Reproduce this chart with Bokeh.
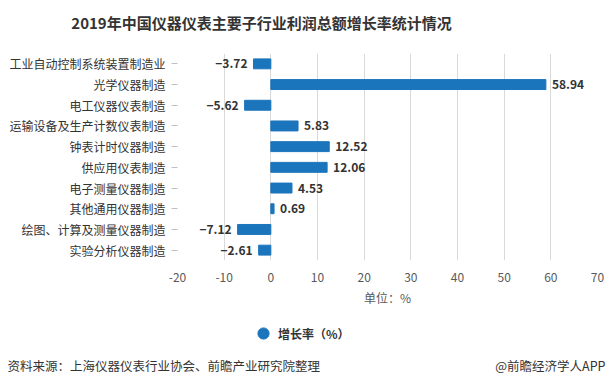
from bokeh.plotting import figure
from bokeh.layouts import column
from bokeh.models import (ColumnDataSource, FactorRange, Range1d, Label, Legend, LegendItem,
                          FixedTicker)
from bokeh.core.properties import value
from bokeh.embed import file_html
from bokeh.resources import INLINE

categories = ["工业自动控制系统装置制造业", "光学仪器制造", "电工仪器仪表制造", "运输设备及生产计数仪表制造",
              "钟表计时仪器制造", "供应用仪表制造", "电子测量仪器制造", "其他通用仪器制造",
              "绘图、计算及测量仪器制造", "实验分析仪器制造"]
growth = [-3.72, 58.94, -5.62, 5.83, 12.52, 12.06, 4.53, 0.69, -7.12, -2.61]
x_ticks = [-20, -10, 0, 10, 20, 30, 40, 50, 60, 70]
x_tick_labels = ["-20", "-10", "0", "10", "20", "30", "40", "50", "60", "70"]
series_name = "增长率（%）"
title_text = "2019年中国仪器仪表主要子行业利润总额增长率统计情况"
unit_text = "单位：%"
source_text = "资料来源：上海仪器仪表行业协会、前瞻产业研究院整理"
credit_text = "@前瞻经济学人APP"

FONT = "Noto Sans CJK SC"
BAR = "#1b75bc"
W = 608
FL = 177   # frame left of the bar chart in the canvas


def blank(height):
    f = figure(width=W, height=height, output_backend="svg", toolbar_location=None,
               x_range=Range1d(0, 1), y_range=Range1d(0, 1),
               min_border_left=0, min_border_right=0, min_border_top=0, min_border_bottom=0)
    f.axis.visible = False
    f.grid.visible = False
    f.outline_line_color = None
    try:
        f.frame_align = False
    except Exception:
        pass
    return f


# header with title
head = blank(45)
head.add_layout(Label(x=261, y=23, x_units="screen", y_units="screen", text=title_text,
                      text_font=FONT, text_font_size="15px", text_font_style="bold",
                      text_color="#333333", text_align="center", text_baseline="middle"))

# main chart
labels = [("−%.2f" % -v) if v < 0 else ("%.2f" % v) for v in growth]
aligns = ["right" if v < 0 else "left" for v in growth]
offs = [-6 if v < 0 else 6 for v in growth]
src = ColumnDataSource(dict(cat=categories, val=growth, lab=labels, align=aligns, off=offs))

p = figure(width=W, height=263, output_backend="svg", toolbar_location=None,
           y_range=FactorRange(factors=list(reversed(categories)), range_padding=0),
           x_range=Range1d(-20, 70),
           min_border_left=FL, min_border_right=11, min_border_top=8, min_border_bottom=45)
p.outline_line_color = None

p.hbar(y="cat", left=0, right="val", height=0.48, color=BAR, source=src)
p.text(x="val", y="cat", text="lab", text_align="align", x_offset="off", text_baseline="middle",
       text_font=value(FONT), text_font_size="12px", text_font_style="bold", text_color="#333333",
       source=src)

p.xaxis.ticker = FixedTicker(ticks=x_ticks)
p.xaxis.major_label_overrides = dict(zip(x_ticks, x_tick_labels))
p.xaxis.axis_line_color = None
p.xaxis.major_tick_line_color = None
p.xaxis.minor_tick_line_color = None
p.xaxis.major_label_text_font = FONT
p.xaxis.major_label_text_font_size = "12px"
p.xaxis.major_label_text_color = "#595959"
p.xaxis.major_label_standoff = 6
p.xaxis.axis_label = unit_text
p.xaxis.axis_label_text_font = FONT
p.xaxis.axis_label_text_font_size = "12px"
p.xaxis.axis_label_text_font_style = "normal"
p.xaxis.axis_label_text_color = "#595959"
p.xaxis.axis_label_standoff = 4

p.yaxis.axis_line_color = None
p.yaxis.major_tick_line_color = "#bfbfbf"
p.yaxis.major_tick_out = 6
p.yaxis.major_tick_in = 0
p.yaxis.major_label_text_font = FONT
p.yaxis.major_label_text_font_size = "12px"
p.yaxis.major_label_text_color = "#333333"
p.yaxis.major_label_standoff = 6

p.xgrid.grid_line_color = "#d9d9d9"
p.ygrid.grid_line_color = None

# footer with legend and source
foot = blank(72)
# legend proxy: a single marker kept outside the visible range, only its legend swatch shows
proxy = foot.scatter(x=[-1], y=[-1], marker="circle", color=BAR)
legend = Legend(items=[LegendItem(label=series_name, renderers=[proxy])],
                location=(249, 33), orientation="horizontal",
                glyph_width=28, glyph_height=28, label_standoff=1, padding=0, margin=0,
                border_line_color=None, background_fill_alpha=0,
                label_text_font=FONT, label_text_font_size="12px", label_text_font_style="bold",
                label_text_color="#333333")
foot.add_layout(legend)
foot.add_layout(Label(x=7, y=15, x_units="screen", y_units="screen", text=source_text,
                      text_font=FONT, text_font_size="12.5px", text_color="#333333",
                      text_baseline="middle", text_align="left"))
foot.add_layout(Label(x=605, y=15, x_units="screen", y_units="screen", text=credit_text,
                      text_font=FONT, text_font_size="12.5px", text_color="#333333",
                      text_baseline="middle", text_align="right"))

layout = column(head, p, foot, spacing=0)
open("out.html", "w").write(file_html(layout, INLINE))
